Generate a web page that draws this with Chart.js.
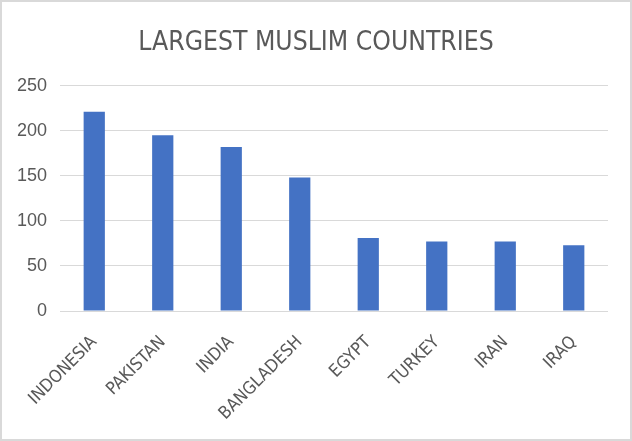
<!DOCTYPE html>
<html>
<head>
<meta charset="utf-8">
<script src="https://cdn.jsdelivr.net/npm/chart.js@4/dist/chart.umd.min.js"></script>
<style>
  html, body { margin: 0; padding: 0; background: #fff; }
  #wrap { width: 632px; height: 441px; box-sizing: border-box; border: 2px solid #d9d9d9; background: #fff; }
  #c { display: block; }
</style>
</head>
<body>
<div id="wrap"><canvas id="c" width="628" height="437"></canvas></div>
<script>
const chartTitle = "LARGEST MUSLIM COUNTRIES";
const countries = ["INDONESIA", "PAKISTAN", "INDIA", "BANGLADESH", "EGYPT", "TURKEY", "IRAN", "IRAQ"];
const population = [221, 195, 182, 148, 81, 77, 77, 73];
const yTicks = [0, 50, 100, 150, 200, 250];

const narrow = "'Liberation Sans Narrow', 'DejaVu Sans Condensed', sans-serif";

const ctx = document.getElementById('c').getContext('2d');
new Chart(ctx, {
  type: 'bar',
  data: {
    labels: countries,
    datasets: [{
      data: population,
      backgroundColor: '#4472C4',
      borderWidth: 0,
      categoryPercentage: 1,
      barPercentage: 0.31,
      yAxisID: 'y'
    }]
  },
  options: {
    responsive: false,
    animation: false,
    layout: { padding: 0 },
    plugins: {
      legend: { display: false },
      tooltip: { enabled: false },
      title: {
        display: true,
        text: chartTitle,
        color: '#595959',
        font: { family: narrow, size: 26.3, weight: 'normal' },
        padding: { top: 25, bottom: 27 }
      }
    },
    scales: {
      y: {
        position: 'left',
        min: yTicks[0],
        max: yTicks[yTicks.length - 1],
        afterBuildTicks: (s) => { s.ticks = yTicks.map(v => ({ value: v })); },
        afterFit: (s) => { s.width = 58; },
        grid: { color: '#d9d9d9', lineWidth: 1, drawTicks: false },
        border: { display: false },
        ticks: {
          color: '#595959',
          padding: 13,
          font: { family: "'Liberation Sans', Arial, sans-serif", size: 18 }
        }
      },
      yRight: {
        position: 'right',
        display: true,
        min: yTicks[0],
        max: yTicks[yTicks.length - 1],
        afterFit: (s) => { s.width = 22; },
        grid: { display: false, drawTicks: false },
        border: { display: false },
        ticks: { display: false }
      },
      x: {
        afterFit: (s) => { s.height = 128; },
        grid: { display: false, drawTicks: false },
        border: { display: false },
        ticks: {
          color: '#595959',
          minRotation: 45,
          maxRotation: 45,
          padding: 21,
          labelOffset: 0,
          font: { family: narrow, size: 17.5 }
        }
      }
    }
  }
});
</script>
</body>
</html>
